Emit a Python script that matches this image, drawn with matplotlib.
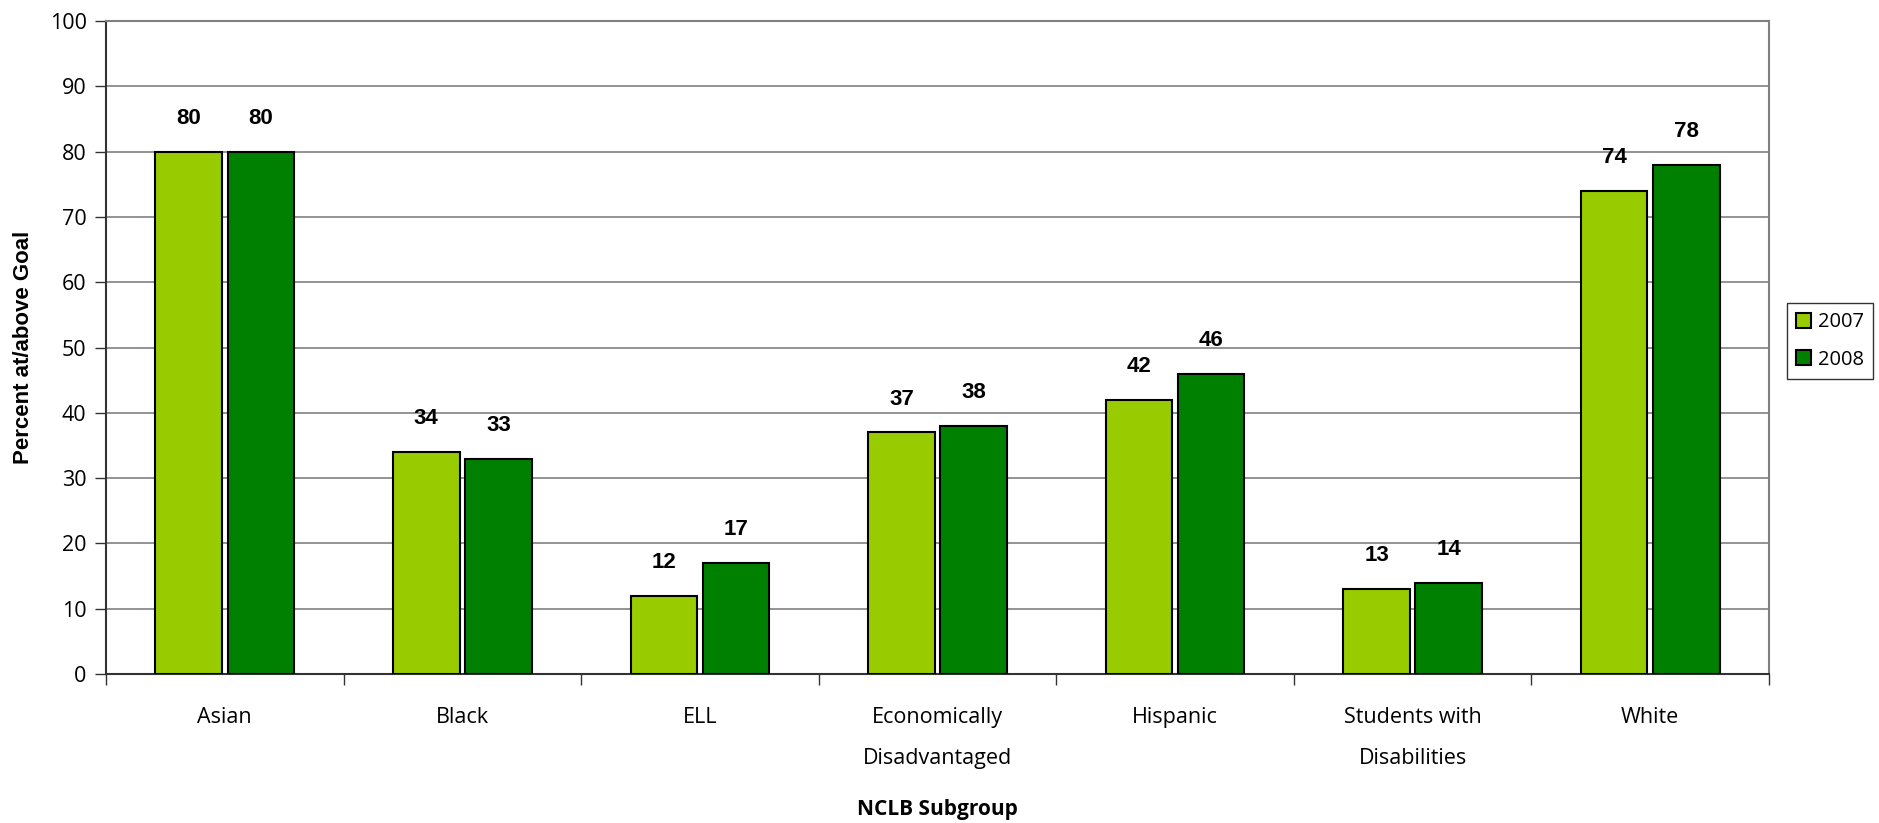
import matplotlib
matplotlib.use("Agg")
import matplotlib.pyplot as plt
import numpy as np

categories = ["Asian", "Black", "ELL", "Economically\nDisadvantaged", "Hispanic",
              "Students with\nDisabilities", "White"]
series_names = ["2007", "2008"]
values_2007 = [80, 34, 12, 37, 42, 13, 74]
values_2008 = [80, 33, 17, 38, 46, 14, 78]
colors = ["#99CC00", "#008000"]

plt.rcParams['font.family'] = ['Open Sans', 'DejaVu Sans']

fig = plt.figure(figsize=(18.79, 8.23), dpi=100)
ax = fig.add_axes([106/1879, 1-674/823, (1769-106)/1879, (674-21)/823])

x = np.arange(len(categories))
width = 0.28
offset = 0.152
for vals, off, col, name in [(values_2007, -offset, colors[0], series_names[0]),
                             (values_2008, offset, colors[1], series_names[1])]:
    bars = ax.bar(x + off, vals, width, color=col, edgecolor="black", linewidth=1.5,
                  label=name, zorder=3)
    for b, v in zip(bars, vals):
        ax.annotate(f"{v}", (b.get_x() + b.get_width()/2, v), xytext=(0, 24),
                    textcoords="offset points", ha="center", va="center",
                    fontsize=16, fontweight="bold", family=["Liberation Sans"], zorder=4)

ax.set_xlim(-0.5, len(categories) - 0.5)
ax.set_ylim(0, 100)
ax.set_yticks(np.arange(0, 101, 10))
ax.yaxis.grid(True, color="#808080", linewidth=1.2, zorder=0)
ax.set_axisbelow(True)

ax.set_xticks(np.arange(-0.5, len(categories), 1.0), minor=False)
ax.set_xticklabels([])
ax.set_xticks(x, minor=True)
ax.set_xticklabels(categories, minor=True, fontsize=15.5, linespacing=2.25)
ax.tick_params(axis="x", which="major", length=8, width=1, color="#333333", direction="out")
ax.tick_params(axis="x", which="minor", length=0, pad=24)
ax.tick_params(axis="y", length=8, width=1, color="#333333", labelsize=15.5, pad=6)
for lbl in ax.get_xticklabels(minor=True):
    lbl.set_verticalalignment("top")

for side in ["top", "right"]:
    ax.spines[side].set_color("#808080")
    ax.spines[side].set_linewidth(1.5)
ax.spines["left"].set_color("#333333")
ax.spines["bottom"].set_color("#333333")
ax.spines["left"].set_linewidth(1.5)
ax.spines["bottom"].set_linewidth(1.5)

ax.set_ylabel("Percent at/above Goal", fontsize=16, fontweight="bold", labelpad=11,
              family=["Liberation Sans"])
fig.text((106+1769)/2/1879, 1-809/823, "NCLB Subgroup", ha="center", va="center",
         fontsize=15, fontweight="bold")

leg = ax.legend(loc="center left", bbox_to_anchor=(1787/1879, 1-341/823),
                bbox_transform=fig.transFigure, fontsize=14.5, frameon=True,
                fancybox=False, handlelength=0.75, handleheight=0.75, handletextpad=0.35,
                borderpad=0.45, labelspacing=0.85, borderaxespad=0)
leg.get_frame().set_edgecolor("black")
leg.get_frame().set_linewidth(1.0)

fig.savefig("out.png", dpi=100, facecolor="white")
